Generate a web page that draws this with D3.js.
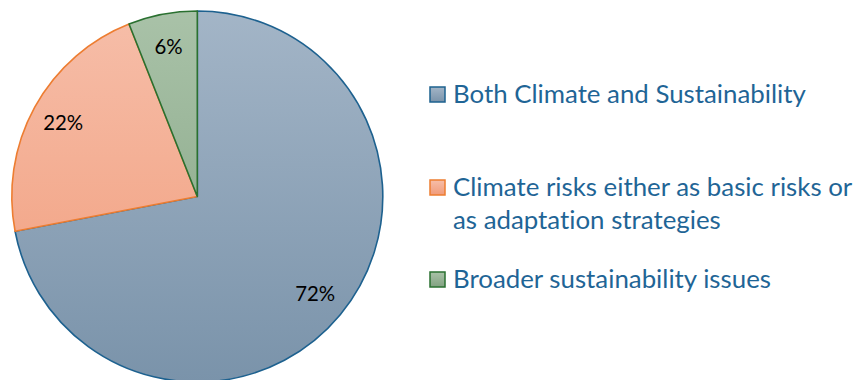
<!DOCTYPE html>
<html><head><meta charset="utf-8">
<script src="https://cdn.jsdelivr.net/npm/d3@7"></script>
<style>html,body{margin:0;padding:0;background:#fff;overflow:hidden} text{font-variant-ligatures:none;font-feature-settings:"liga" 0}</style>
</head><body>
<svg id="chart" width="857" height="380"></svg>
<script>
const categories = ["Both Climate and Sustainability", "Climate risks either as basic risks or as adaptation strategies", "Broader sustainability issues"];
const values = [72, 22, 6];
const valueLabels = ["72%", "22%", "6%"];

const fillTop = ["#a3b5c7", "#f6bea9", "#a9c2a8"];
const fillBottom = ["#7a93aa", "#f19b79", "#82a281"];
const strokes = ["#1d618f", "#ed7d31", "#2a7030"];
const textColor = "#1f6596";
const font = "Lato, 'Open Sans', sans-serif";

const svg = d3.select("#chart");
const cx = 197.3, cy = 196.5, R = 185.5;

const defs = svg.append("defs");
fillTop.forEach((c, i) => {
  const g = defs.append("linearGradient").attr("id", "g" + i)
    .attr("gradientUnits", "userSpaceOnUse")
    .attr("x1", 0).attr("y1", -R).attr("x2", 0).attr("y2", R);
  g.append("stop").attr("offset", "0%").attr("stop-color", c);
  g.append("stop").attr("offset", "100%").attr("stop-color", fillBottom[i]);
  const lg = defs.append("linearGradient").attr("id", "lg" + i)
    .attr("x1", 0).attr("y1", 0).attr("x2", 0).attr("y2", 1);
  lg.append("stop").attr("offset", "0%").attr("stop-color", c);
  lg.append("stop").attr("offset", "100%").attr("stop-color", fillBottom[i]);
});

const pie = d3.pie().sort(null).value(d => d)(values);
const arc = d3.arc().innerRadius(0).outerRadius(R);
const labelArc = d3.arc().innerRadius(R * 0.825).outerRadius(R * 0.825);

const g = svg.append("g").attr("transform", `translate(${cx},${cy})`);
g.selectAll("path").data(pie).join("path")
  .attr("d", arc)
  .attr("fill", (d, i) => `url(#g${i})`)
  .attr("stroke", (d, i) => strokes[i])
  .attr("stroke-width", 1.6)
  .attr("stroke-linejoin", "round");

const lbls = g.selectAll("text.val").data(pie).join("text")
  .attr("class", "val")
  .attr("transform", d => `translate(${labelArc.centroid(d)})`)
  .attr("text-anchor", "middle")
  .attr("dy", "0.36em")
  .attr("font-family", font)
  .attr("font-size", 20)
  .attr("fill", "#000")
  .text((d, i) => valueLabels[i]);
// fit label font to reference width of "72%"
const w72 = lbls.nodes()[0].getComputedTextLength();
lbls.attr("font-size", 20 * 40 / w72);

// legend
const legendX = 430, textX = 453;
const baselines = [103, 196, 288];
const lineH = 33;
const leg = svg.append("g");
const maxW = 405;

// determine font size from first entry width
const probe = leg.append("text").attr("font-family", font).attr("font-size", 24).text(categories[0]);
const fs = 24 * 353 / probe.node().getComputedTextLength();
probe.remove();

categories.forEach((cat, i) => {
  leg.append("rect")
    .attr("x", legendX).attr("y", baselines[i] - 16)
    .attr("width", 15).attr("height", 15)
    .attr("fill", `url(#lg${i})`)
    .attr("stroke", strokes[i]).attr("stroke-width", 1.5);
  const t = leg.append("text")
    .attr("x", textX).attr("y", baselines[i])
    .attr("font-family", font).attr("font-size", fs)
    .attr("fill", textColor);
  const words = cat.split(" ");
  let line = [];
  let ts = t.append("tspan").attr("x", textX).attr("dy", 0);
  words.forEach(w => {
    line.push(w);
    ts.text(line.join(" "));
    if (ts.node().getComputedTextLength() > maxW && line.length > 1) {
      line.pop();
      ts.text(line.join(" "));
      line = [w];
      ts = t.append("tspan").attr("x", textX).attr("dy", lineH).text(w);
    }
  });
});
</script>
</body></html>
